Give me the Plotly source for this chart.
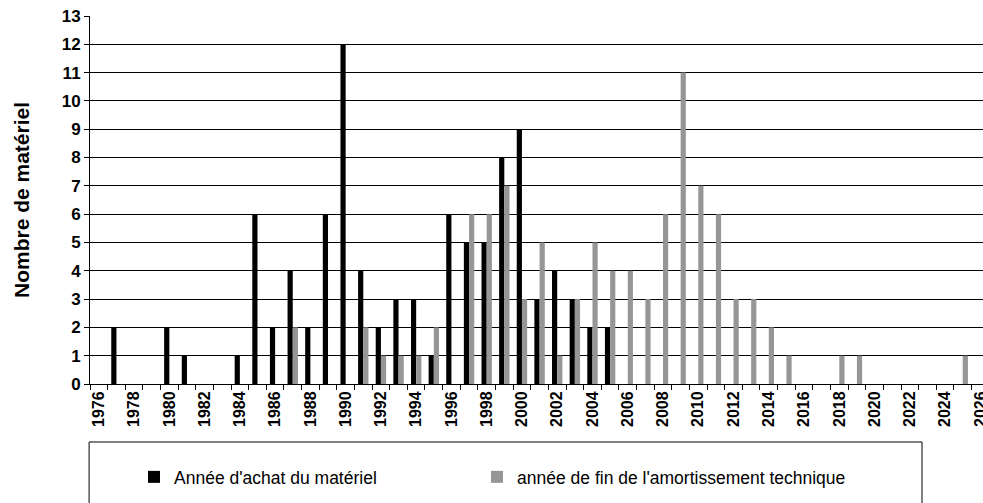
import plotly.graph_objects as go

years_purchase = [1977, 1980, 1981, 1984, 1985, 1986, 1987, 1988, 1989, 1990,
                  1991, 1992, 1993, 1994, 1995, 1996, 1997, 1998, 1999, 2000,
                  2001, 2002, 2003, 2004, 2005]
count_purchase = [2, 2, 1, 1, 6, 2, 4, 2, 6, 12,
                  4, 2, 3, 3, 1, 6, 5, 5, 8, 9,
                  3, 4, 3, 2, 2]

years_end = [1987, 1991, 1992, 1993, 1994, 1995, 1997, 1998, 1999, 2000,
             2001, 2002, 2003, 2004, 2005, 2006, 2007, 2008, 2009, 2010,
             2011, 2012, 2013, 2014, 2015, 2018, 2019, 2025]
count_end = [2, 2, 1, 1, 1, 2, 6, 6, 7, 3,
             5, 1, 3, 5, 4, 4, 3, 6, 11, 7,
             6, 3, 3, 2, 1, 1, 1, 1]

tick_years = list(range(1976, 2027, 2))
tick_labels = [str(y) for y in tick_years]

name_purchase = "Année d'achat du matériel"
name_end = "année de fin de l'amortissement technique"

FONT = "Liberation Sans, Arial, sans-serif"
LEG_FONT = dict(family=FONT, size=17.5, color="black")

fig = go.Figure()
fig.add_trace(go.Bar(x=years_purchase, y=count_purchase, name=name_purchase,
                     marker=dict(color="#000000", line=dict(width=0)), legend="legend"))
fig.add_trace(go.Bar(x=years_end, y=count_end, name=name_end,
                     marker=dict(color="#969696", line=dict(width=0)), legend="legend2"))

fig.update_layout(
    width=983, height=503,
    margin=dict(l=90, r=0, t=16, b=119, autoexpand=False),
    paper_bgcolor="white", plot_bgcolor="white",
    barmode="group", bargap=0.41, bargroupgap=0,
    font=dict(family=FONT, color="black"),
    showlegend=True,
    legend=dict(orientation="h", x=0.0493, y=-0.2527, xanchor="left", yanchor="middle",
                font=LEG_FONT, bgcolor="rgba(0,0,0,0)", itemwidth=30),
    legend2=dict(orientation="h", x=0.4334, y=-0.2527, xanchor="left", yanchor="middle",
                 font=LEG_FONT, bgcolor="rgba(0,0,0,0)", itemwidth=30),
    shapes=[dict(type="rect", xref="paper", yref="paper",
                 x0=-0.001, x1=0.9317, y0=-0.1576, y1=-0.40,
                 line=dict(color="#000000", width=1), fillcolor="rgba(0,0,0,0)")],
)

fig.update_xaxes(
    automargin=False,
    range=[1975.5, 2026.15],
    tickmode="array", tickvals=tick_years, ticktext=tick_labels,
    tickangle=-90, ticks="", ticklabeloverflow="allow",
    tickfont=dict(family=FONT, size=16, color="black", weight="bold"),
    showline=True, linecolor="black", linewidth=1,
    showgrid=False, zeroline=False,
    minor=dict(ticks="outside", ticklen=5, tickcolor="black", tickwidth=1,
               tickmode="linear", tick0=1975.5, dtick=1, showgrid=False),
)

fig.update_yaxes(
    automargin=False,
    range=[0, 13], dtick=1, tick0=0,
    ticks="outside", ticklen=5, tickcolor="black",
    tickfont=dict(family=FONT, size=17, color="black", weight="bold"),
    showline=True, linecolor="black", linewidth=1,
    showgrid=True, gridcolor="black", gridwidth=1,
    zeroline=False,
    title=dict(text="Nombre de matériel", standoff=26,
               font=dict(family=FONT, size=21, color="black", weight="bold")),
)

# remove the browser's default 8px body margin so the figure sits at the page origin
fig.write_html("out.html", config={"displayModeBar": False},
               post_script="document.body.style.margin='0px';")
